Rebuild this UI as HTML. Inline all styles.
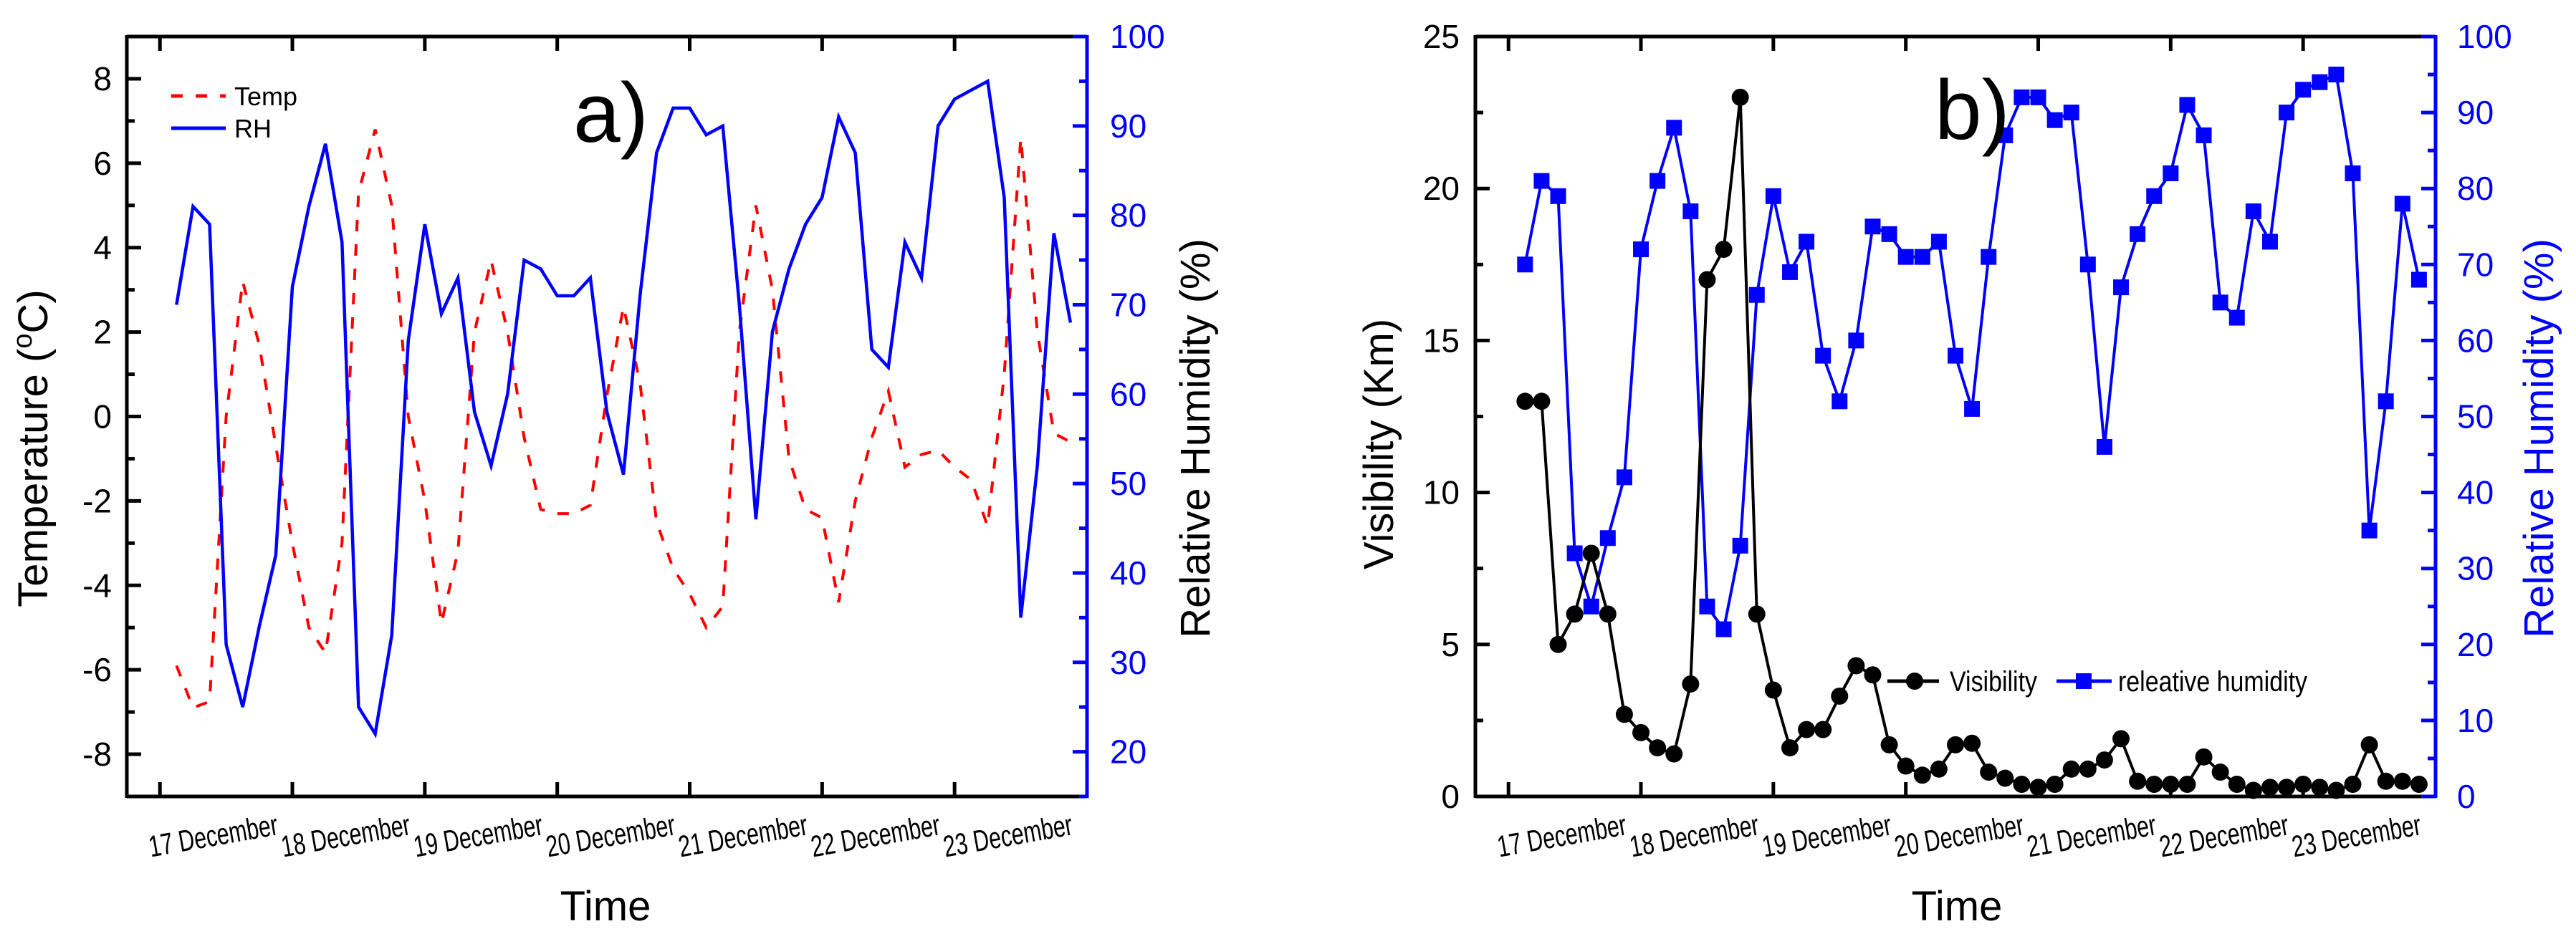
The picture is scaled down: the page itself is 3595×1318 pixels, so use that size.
<!DOCTYPE html>
<html><head><meta charset="utf-8"><style>
html,body{margin:0;padding:0;background:#fff;}
svg{display:block;font-family:"Liberation Sans",Arial,sans-serif;}
</style></head><body>
<svg id="chart" width="3595" height="1318" viewBox="0 0 3595 1318" xmlns="http://www.w3.org/2000/svg">
<g id="pa"></g>
<g id="pb"></g>
</svg>
<script>
const hours = [];
for (let i = 0; i < 55; i++) hours.push(3 + 3 * i);
const dayLabels = ["17 December","18 December","19 December","20 December","21 December","22 December","23 December"];
const tempValues = [-5.9,-6.9,-6.75,0,3.2,1.7,-0.7,-3.0,-5.0,-5.6,-3.0,5.3,6.8,5.0,0.0,-2.0,-4.9,-3.2,2.0,3.7,2.0,-0.5,-2.2,-2.3,-2.3,-2.1,0.5,2.6,0.8,-2.5,-3.6,-4.2,-5.0,-4.5,2.0,5.0,3.0,-1.0,-2.2,-2.4,-4.4,-2.0,-0.5,0.6,-1.2,-0.9,-0.8,-1.2,-1.5,-2.6,1.0,6.6,2.0,-0.4,-0.6];
const rhValues = [70,81,79,32,25,34,42,72,81,88,77,25,22,33,66,79,69,73,58,52,60,75,74,71,71,73,58,51,71,87,92,92,89,90,70,46,67,74,79,82,91,87,65,63,77,73,90,93,94,95,82,35,52,78,68];
const visValues = [13,13,5,6,8,6,2.7,2.1,1.6,1.4,3.7,17,18,23,6,3.5,1.6,2.2,2.2,3.3,4.3,4.0,1.7,1.0,0.7,0.9,1.7,1.75,0.8,0.6,0.4,0.3,0.4,0.9,0.9,1.2,1.9,0.5,0.4,0.4,0.4,1.3,0.8,0.4,0.2,0.3,0.3,0.4,0.3,0.2,0.4,1.7,0.5,0.5,0.4];
const tempTicks = [-8,-6,-4,-2,0,2,4,6,8];
const rhTicksA = [20,30,40,50,60,70,80,90,100];
const visTicks = [0,5,10,15,20,25];
const rhTicksB = [0,10,20,30,40,50,60,70,80,90,100];

const NS = "http://www.w3.org/2000/svg";
function mk(parent, tag, attrs, text) {
  const e = document.createElementNS(NS, tag);
  for (const k in attrs) e.setAttribute(k, attrs[k]);
  if (text !== undefined) e.textContent = text;
  parent.appendChild(e);
  return e;
}
const TOP = 51, BOT = 1112;
function xScale(left) { return h => left + (h + 6) * (1340 / 174); }
function yScale(min, max) { return v => BOT - (v - min) / (max - min) * (BOT - TOP); }

function frame(g, left, rightColor) {
  const right = left + 1340;
  let e;
  e = mk(g, "line", {x1:left, y1:TOP, x2:right, y2:TOP, stroke:"#000", "stroke-width":5});
   
  e = mk(g, "line", {x1:left, y1:BOT, x2:right, y2:BOT, stroke:"#000", "stroke-width":5});
   
  e = mk(g, "line", {x1:left, y1:TOP-2, x2:left, y2:BOT+2, stroke:"#000", "stroke-width":5});
   
  e = mk(g, "line", {x1:right, y1:TOP-2, x2:right, y2:BOT+2, stroke:rightColor, "stroke-width":5});
   
  const xs = xScale(left);
  for (let d = 0; d <= 7; d++) {
    const x = xs(d * 24);
    if (d < 7) {
      e = mk(g, "line", {x1:x, y1:BOT, x2:x, y2:BOT-20, stroke:"#000", "stroke-width":5});
       
      e = mk(g, "line", {x1:x, y1:TOP, x2:x, y2:TOP+20, stroke:"#000", "stroke-width":5});
       
    }
  }
  dayLabels.forEach((lab, d) => {
    const cx = xs(d * 24 + 12) - 18, cy = 1167;
    const t = mk(g, "text", {x:cx, y:cy + 14, "font-size":42, "text-anchor":"middle", textLength:182, lengthAdjust:"spacingAndGlyphs", transform:`rotate(-10 ${cx} ${cy})`}, lab);
     
  });
}
function leftTicks(g, left, ticks, minorStep, min, max, labelRight) {
  const ys = yScale(min, max);
  let e;
  for (let v = min; v <= max + 1e-9; v += minorStep) {
    const major = ticks.some(t => Math.abs(t - v) < 1e-6);
    e = mk(g, "line", {x1:left, y1:ys(v), x2:left + (major ? 20 : 11), y2:ys(v), stroke:"#000", "stroke-width":5});
     
  }
  ticks.forEach(v => {
    e = mk(g, "text", {x:labelRight, y:ys(v) + 16, "font-size":46, "text-anchor":"end"}, String(v));
     
  });
}
function rightTicks(g, right, ticks, minorStep, min, max, labelLeft) {
  const ys = yScale(min, max);
  let e;
  for (let v = min; v <= max + 1e-9; v += minorStep) {
    const major = ticks.some(t => Math.abs(t - v) < 1e-6);
    e = mk(g, "line", {x1:right, y1:ys(v), x2:right - (major ? 20 : 11), y2:ys(v), stroke:"#0000ff", "stroke-width":5});
     
  }
  ticks.forEach(v => {
    e = mk(g, "text", {x:labelLeft, y:ys(v) + 16, "font-size":46, fill:"#0000ff"}, String(v));
     
  });
}
function path(xs, ys, vals) {
  return vals.map((v, i) => (i ? "L" : "M") + xs(hours[i]).toFixed(1) + "," + ys(v).toFixed(1)).join(" ");
}

// Panel a
(function(){
  const g = document.getElementById("pa");
  const left = 177, right = 1517;
  const xs = xScale(left);
  const yt = yScale(-9, 9), yr = yScale(15, 100);
  frame(g, left, "#0000ff");
  leftTicks(g, left, tempTicks, 1, -9, 9, 156);
  rightTicks(g, right, rhTicksA, 5, 15, 100, 1549);
  let e;
  e = mk(g, "path", {d:path(xs, yt, tempValues), fill:"none", stroke:"#ff0000", "stroke-width":4, "stroke-dasharray":"16 18"});
   
  e = mk(g, "path", {d:path(xs, yr, rhValues), fill:"none", stroke:"#0000ff", "stroke-width":4.5});
   
  e = mk(g, "line", {x1:239, y1:134, x2:315, y2:134, stroke:"#ff0000", "stroke-width":5, "stroke-dasharray":"16 18"});
   
  e = mk(g, "text", {x:327, y:147, "font-size":36}, "Temp");
   
  e = mk(g, "line", {x1:239, y1:179, x2:315, y2:179, stroke:"#0000ff", "stroke-width":5});
   
  e = mk(g, "text", {x:327, y:192, "font-size":36}, "RH");
   
  e = mk(g, "text", {x:800, y:198, "font-size":118}, "a)");
   
  e = mk(g, "text", {x:0, y:0, "font-size":58, "text-anchor":"middle", transform:"translate(66 626) rotate(-90)"});
   
  e.innerHTML = 'Temperature (<tspan font-size="38" dy="-22">o</tspan><tspan dy="22">C)</tspan>';
  e = mk(g, "text", {x:0, y:0, "font-size":58, "text-anchor":"middle", transform:"translate(1688 612) rotate(-90)"}, "Relative Humidity (%)");
   
  e = mk(g, "text", {x:845, y:1285, "font-size":58, "text-anchor":"middle"}, "Time");
   
})();

// Panel b
(function(){
  const g = document.getElementById("pb");
  const left = 2059, right = 3399;
  const xs = xScale(left);
  const yv = yScale(0, 25), yr = yScale(0, 100);
  frame(g, left, "#0000ff");
  leftTicks(g, left, visTicks, 2.5, 0, 25, 2037);
  rightTicks(g, right, rhTicksB, 5, 0, 100, 3429);
  let e;
  e = mk(g, "path", {d:path(xs, yr, rhValues), fill:"none", stroke:"#0000ff", "stroke-width":4});
   
  rhValues.forEach((v, i) => {
    const m = mk(g, "rect", {x:xs(hours[i]) - 11, y:yr(v) - 11, width:22, height:22, fill:"#0000ff"});
    
    
  });
  e = mk(g, "path", {d:path(xs, yv, visValues), fill:"none", stroke:"#000", "stroke-width":4});
   
  visValues.forEach((v, i) => {
    const m = mk(g, "circle", {cx:xs(hours[i]), cy:yv(v), r:12, fill:"#000"});
    
    
  });
  e = mk(g, "line", {x1:2634, y1:951, x2:2706, y2:951, stroke:"#000", "stroke-width":5});
   
  e = mk(g, "circle", {cx:2672, cy:951, r:12, fill:"#000"});
   
  e = mk(g, "text", {x:2721, y:965, "font-size":40, textLength:122, lengthAdjust:"spacingAndGlyphs"}, "Visibility");
   
  e = mk(g, "line", {x1:2870, y1:951, x2:2947, y2:951, stroke:"#0000ff", "stroke-width":5});
   
  e = mk(g, "rect", {x:2897, y:940, width:22, height:22, fill:"#0000ff"});
   
  e = mk(g, "text", {x:2956, y:965, "font-size":40, textLength:264, lengthAdjust:"spacingAndGlyphs"}, "releative humidity");
   
  e = mk(g, "text", {x:2700, y:194, "font-size":118}, "b)");
   
  e = mk(g, "text", {x:0, y:0, "font-size":58, "text-anchor":"middle", transform:"translate(1944 620) rotate(-90)"}, "Visibility (Km)");
   
  e = mk(g, "text", {x:0, y:0, "font-size":58, "text-anchor":"middle", fill:"#0000ff", transform:"translate(3563 612) rotate(-90)"}, "Relative Humidity (%)");
   
  e = mk(g, "text", {x:2731, y:1285, "font-size":58, "text-anchor":"middle"}, "Time");
   
})();
</script>
</body></html>
